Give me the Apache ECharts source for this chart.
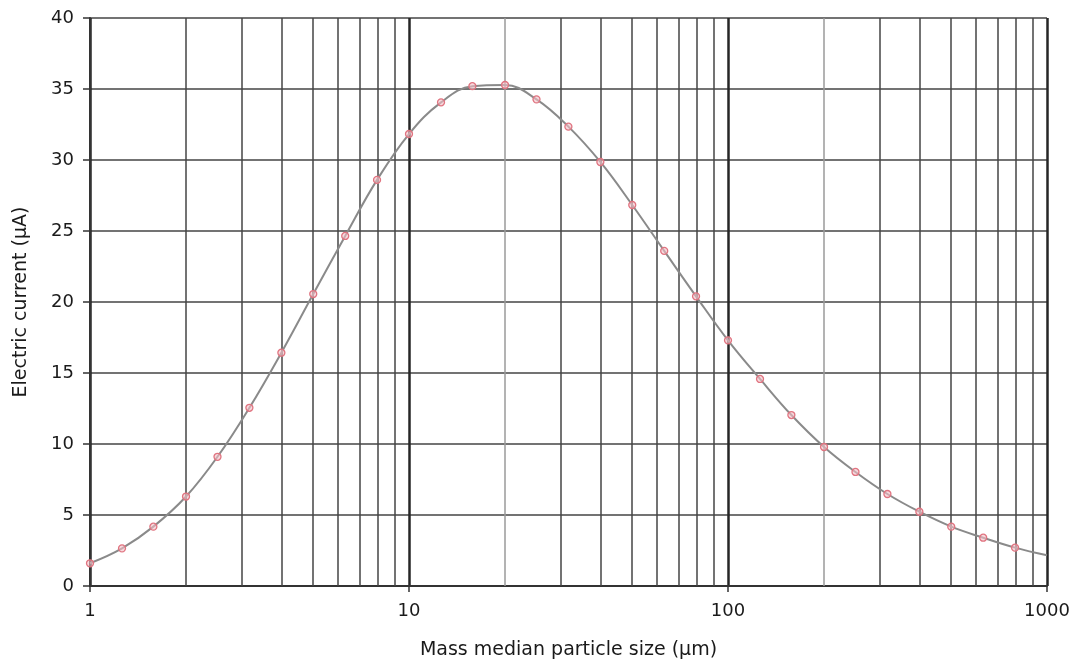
<!DOCTYPE html>
<html>
<head>
<meta charset="utf-8">
<script src="https://cdn.jsdelivr.net/npm/echarts@6/dist/echarts.min.js"></script>
<style>
  html, body { margin: 0; padding: 0; background: #fff; }
  #chart { width: 1080px; height: 666px; }
</style>
</head>
<body>
<div id="chart"></div>
<script>
// particle size (µm): 10^(k/10)
var tamanos = [1, 1.26, 1.58, 2, 2.51, 3.16, 3.98, 5.01, 6.31, 7.94,
               10, 12.6, 15.8, 20, 25.1, 31.6, 39.8, 50.1, 63.1, 79.4,
               100, 126, 158, 200, 251, 316, 398, 501, 631, 794, 1000];
// electric current (µA)
var corriente = [1.6, 2.65, 4.18, 6.3, 9.1, 12.55, 16.43, 20.56, 24.65, 28.6,
                 31.83, 34.06, 35.2, 35.28, 34.27, 32.35, 29.86, 26.83, 23.6, 20.4,
                 17.3, 14.58, 12.04, 9.79, 8.03, 6.48, 5.23, 4.18, 3.4, 2.7, 2.16];
// extra vertical grid lines between decades
var lineasMenores = [2, 3, 4, 5, 6, 7, 8, 9,
                     20, 30, 40, 50, 60, 70, 80, 90,
                     200, 300, 400, 500, 600, 700, 800, 900];
var lineasClaras = [20, 200];

var fuente = 'DejaVu Sans';

var puntos = tamanos.map(function (t, i) {
  var p = { value: [t, corriente[i]] };
  // the fitted line runs to 1000 but there is no marker there
  if (i == tamanos.length - 1) p.symbol = 'none';
  return p;
});

var rejilla = lineasMenores.map(function (v) {
  var claro = lineasClaras.indexOf(v) >= 0;
  return {
    xAxis: v,
    lineStyle: { color: claro ? '#9a9a9a' : '#444', width: 1.5, type: 'solid' }
  };
});

var chart = echarts.init(document.getElementById('chart'));

chart.setOption({
  animation: false,
  backgroundColor: '#fff',
  grid: { left: 90, right: 33, top: 18, bottom: 80 },
  xAxis: {
    type: 'log',
    logBase: 10,
    min: 1,
    max: 1000,
    name: 'Mass median particle size (µm)',
    nameLocation: 'middle',
    nameGap: 55,
    nameTextStyle: { fontFamily: fuente, fontSize: 19, color: '#1a1a1a' },
    axisLine: { show: true, lineStyle: { color: '#333', width: 2 } },
    axisTick: { show: true, length: 6, lineStyle: { color: '#333', width: 1.5 } },
    axisLabel: {
      fontFamily: fuente, fontSize: 18, color: '#1a1a1a', margin: 16,
      formatter: function (v) { return String(v); }
    },
    splitLine: { show: true, lineStyle: { color: '#262626', width: 2.5 } },
    minorTick: { show: false },
    minorSplitLine: { show: false }
  },
  yAxis: {
    type: 'value',
    min: 0,
    max: 40,
    interval: 5,
    name: 'Electric current (µA)',
    nameLocation: 'middle',
    nameGap: 59,
    nameTextStyle: { fontFamily: fuente, fontSize: 19, color: '#1a1a1a' },
    axisLine: { show: true, lineStyle: { color: '#333', width: 2 } },
    axisTick: { show: true, length: 7, lineStyle: { color: '#333', width: 1.5 } },
    axisLabel: { fontFamily: fuente, fontSize: 18, color: '#1a1a1a', margin: 16 },
    splitLine: { show: true, lineStyle: { color: '#444', width: 1.5 } }
  },
  series: [
    {
      // only carries the minor vertical grid lines
      type: 'line',
      data: [],
      z: 1,
      silent: true,
      markLine: {
        silent: true,
        symbol: 'none',
        label: { show: false },
        animation: false,
        data: rejilla
      }
    },
    {
      type: 'line',
      z: 5,
      smooth: 0.4,
      data: puntos,
      symbol: 'circle',
      symbolSize: 7,
      showAllSymbol: true,
      lineStyle: { color: '#8a8a8a', width: 2 },
      itemStyle: { color: 'rgba(245,190,198,0.6)', borderColor: '#e07480', borderWidth: 1.3 }
    }
  ]
});
</script>
</body>
</html>
